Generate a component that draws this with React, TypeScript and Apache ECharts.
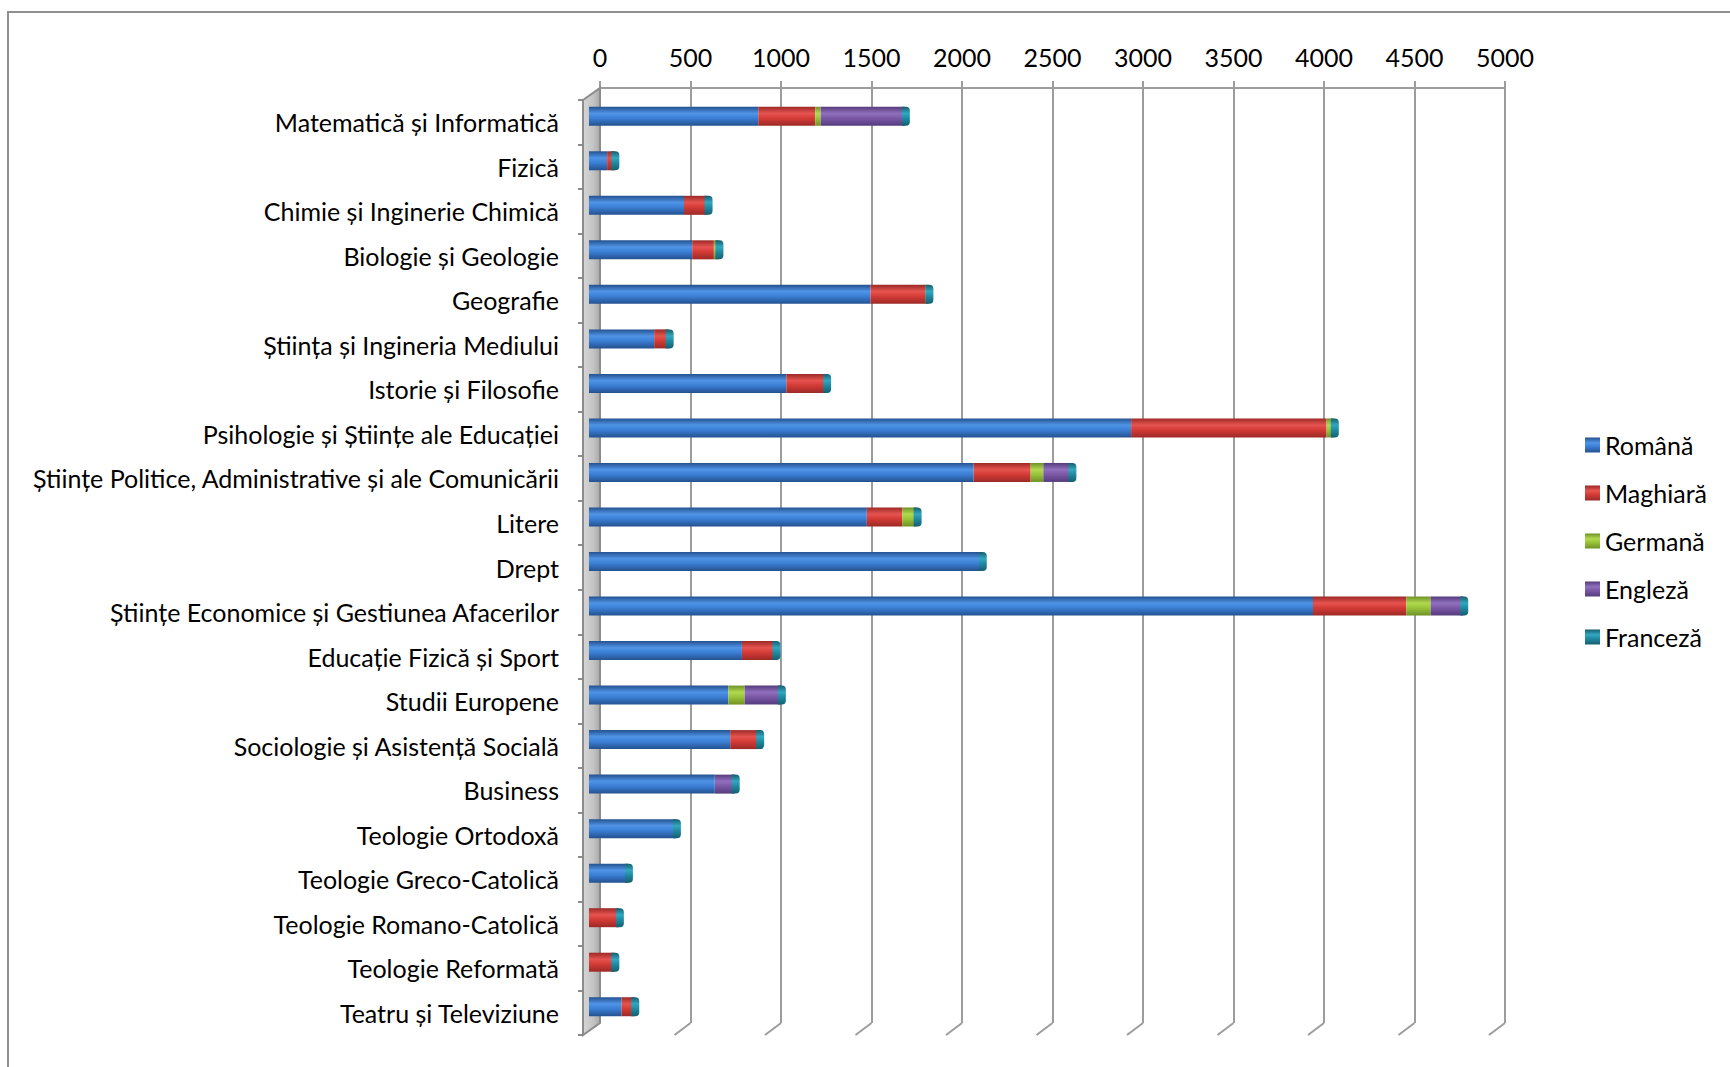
import React, { useEffect, useRef } from "react";
import * as echarts from "echarts";

const categories = [
  "Matematică și Informatică",
  "Fizică",
  "Chimie și Inginerie Chimică",
  "Biologie și Geologie",
  "Geografie",
  "Știința și Ingineria Mediului",
  "Istorie și Filosofie",
  "Psihologie și Științe ale Educației",
  "Științe Politice, Administrative și ale Comunicării",
  "Litere",
  "Drept",
  "Științe Economice și Gestiunea Afacerilor",
  "Educație Fizică și Sport",
  "Studii Europene",
  "Sociologie și Asistență Socială",
  "Business",
  "Teologie Ortodoxă",
  "Teologie Greco-Catolică",
  "Teologie Romano-Catolică",
  "Teologie Reformată",
  "Teatru și Televiziune",
];

const romana = [935, 100, 525, 570, 1555, 360, 1090, 2995, 2125, 1535, 2170, 4000, 845, 770, 780, 695, 480, 215, 0, 0, 180];
const maghiara = [315, 40, 130, 120, 305, 80, 220, 1080, 315, 195, 0, 515, 185, 0, 160, 0, 0, 0, 165, 140, 70];
const germana = [30, 0, 0, 25, 15, 0, 0, 40, 70, 80, 0, 135, 0, 90, 0, 0, 0, 0, 0, 0, 0];
const engleza = [465, 0, 0, 0, 0, 0, 0, 0, 155, 0, 0, 180, 0, 200, 0, 110, 0, 0, 0, 0, 0];
const franceza = [0, 0, 0, 0, 0, 0, 0, 0, 0, 0, 0, 0, 0, 0, 0, 0, 0, 0, 0, 0, 0];

const seriesNames = ["Română", "Maghiară", "Germană", "Engleză", "Franceză"];
const axisTicks = [0, 500, 1000, 1500, 2000, 2500, 3000, 3500, 4000, 4500, 5000];

const FONT = "Lato, 'Open Sans', sans-serif";
const FS = 25;

function cyl(top: string, mid: string, bottom: string) {
  return new echarts.graphic.LinearGradient(0, 0, 0, 1, [
    { offset: 0, color: bottom },
    { offset: 0.35, color: mid },
    { offset: 0.6, color: top },
    { offset: 1, color: bottom },
  ]);
}

const palette = [
  cyl("#3b7fd6", "#5094e6", "#24518f"),
  cyl("#d43b36", "#e65450", "#9c2926"),
  cyl("#99c43a", "#b0d950", "#6f9226"),
  cyl("#7b58a6", "#9070bd", "#553b7c"),
  cyl("#1f8ba3", "#33a7c0", "#145f70"),
];

export default function App() {
  const ref = useRef<HTMLDivElement>(null);

  useEffect(() => {
    if (!ref.current) return;
    const chart = echarts.init(ref.current, undefined, { renderer: "svg" });
    const data = [romana, maghiara, germana, engleza, franceza];
    const totals = categories.map((_, i) => data.reduce((s, arr) => s + arr[i], 0));

    const barSeries = seriesNames.map((name, k) => ({
      name,
      type: "bar",
      stack: "total",
      xAxisIndex: 1,
      yAxisIndex: 1,
      barWidth: 19,
      z: 3,
      itemStyle: { color: palette[k] },
      data: data[k],
    }));

    const option: any = {
      animation: false,
      backgroundColor: "#ffffff",
      textStyle: { fontFamily: FONT },
      graphic: [
        {
          type: "rect",
          shape: { x: 8, y: 12, width: 1900, height: 1200 },
          style: { fill: "none", stroke: "#8f8f8f", lineWidth: 2 },
          silent: true,
        },
      ],
      legend: {
        data: seriesNames,
        orient: "vertical",
        left: 1580,
        top: 427,
        icon: "rect",
        itemWidth: 15,
        itemHeight: 15,
        itemGap: 22,
        textStyle: { fontSize: FS, color: "#000", fontFamily: FONT, lineHeight: 26 },
      },
      grid: [
        { left: 600, right: 225, top: 88, bottom: 44 },
        { left: 589, right: 236, top: 94, bottom: 38 },
        { left: 584, right: 241, top: 100, bottom: 32 },
      ],
      xAxis: [
        {
          gridIndex: 0,
          type: "value",
          position: "top",
          min: 0,
          max: 5000,
          interval: 500,
          axisLine: { show: true, lineStyle: { color: "#9c9c9c", width: 2 } },
          axisTick: { show: true, length: 7, lineStyle: { color: "#9c9c9c", width: 2 } },
          axisLabel: {
            fontSize: FS,
            color: "#000",
            fontFamily: FONT,
            margin: 19,
            formatter: (v: number) => String(v),
          },
          splitLine: { show: true, lineStyle: { color: "#9c9c9c", width: 2 } },
        },
        { gridIndex: 1, type: "value", min: 0, max: 5000, show: false, splitLine: { show: false } },
        { gridIndex: 2, type: "value", min: 0, max: 5000, show: false, splitLine: { show: false } },
      ],
      yAxis: [
        { gridIndex: 0, type: "category", data: categories, inverse: true, show: false },
        { gridIndex: 1, type: "category", data: categories, inverse: true, show: false },
        {
          gridIndex: 2,
          type: "category",
          data: categories,
          inverse: true,
          axisLine: { show: false },
          axisTick: { show: true, length: 6, lineStyle: { color: "#8c8c8c", width: 2 } },
          axisLabel: { fontSize: FS, color: "#000", fontFamily: FONT, margin: 25 },
          splitLine: { show: false },
        },
      ],
      series: [
        {
          type: "custom",
          name: "floor",
          xAxisIndex: 0,
          yAxisIndex: 0,
          z: 1,
          silent: true,
          data: axisTicks.map((v) => [v]),
          renderItem: (params: any, api: any) => {
            const cs = params.coordSys;
            const x = api.coord([api.value(0), 0])[0];
            const bottom = cs.y + cs.height;
            const line = {
              type: "line",
              shape: { x1: x, y1: bottom, x2: x - 16, y2: bottom + 12 },
              style: { stroke: "#9c9c9c", lineWidth: 2 },
            };
            if (params.dataIndex !== 0) return line;
            return {
              type: "group",
              children: [
                {
                  type: "polygon",
                  shape: {
                    points: [
                      [x - 17, cs.y + 12],
                      [x, cs.y],
                      [x, bottom],
                      [x - 17, bottom + 12],
                    ],
                  },
                  style: {
                    fill: new echarts.graphic.LinearGradient(0, 0, 1, 0, [
                      { offset: 0, color: "#d6d6d6" },
                      { offset: 0.6, color: "#c4c4c4" },
                      { offset: 1, color: "#a8a8a8" },
                    ]),
                    stroke: "#8c8c8c",
                    lineWidth: 2,
                  },
                },
              ],
            };
          },
        },
        ...barSeries,
        {
          type: "custom",
          name: "caps",
          xAxisIndex: 1,
          yAxisIndex: 1,
          z: 4,
          silent: true,
          data: totals.map((t, i) => [t, i]),
          renderItem: (params: any, api: any) => {
            const p = api.coord([api.value(0), api.value(1)]);
            return {
              type: "rect",
              shape: { x: p[0] - 3, y: p[1] - 9.5, width: 8, height: 19, r: [0, 4, 4, 0] },
              style: { fill: palette[4] },
            };
          },
        },
      ],
    };

    chart.setOption(option);
    return () => chart.dispose();
  }, []);

  return (
    <div
      ref={ref}
      style={{ position: "fixed", left: 0, top: 0, width: 1730, height: 1067, background: "#fff" }}
    />
  );
}
